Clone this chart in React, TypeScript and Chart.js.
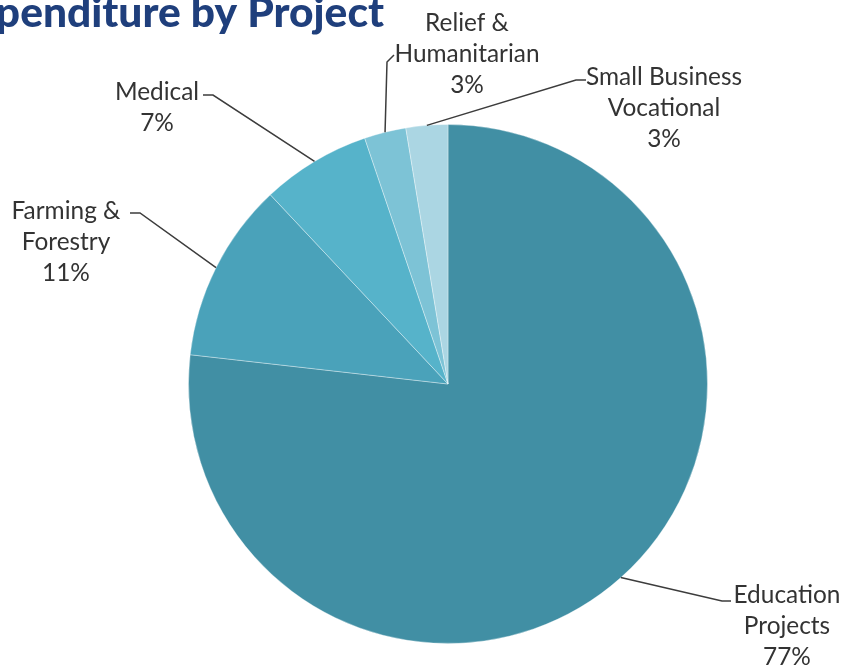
import React, { useEffect, useRef } from "react";
import { Chart, registerables } from "chart.js";

Chart.register(...registerables);

// ---- data ----
const categories: string[][] = [
  ["Education", "Projects"],
  ["Farming &", "Forestry"],
  ["Medical"],
  ["Relief &", "Humanitarian"],
  ["Small Business", "Vocational"],
];
const shares: number[] = [76.8, 11.2, 6.8, 2.6, 2.6];
const sliceColors: string[] = ["#418fa4", "#4aa2ba", "#56b3ca", "#7dc3d6", "#abd6e3"];
const titleText = "Expenditure by Project";

// ---- layout (offsets from the pie centre) ----
const labelLayout = [
  { tx: 339, ty: 211, elbow: [274, 217], end: [283, 217] },
  { tx: -382, ty: -173, elbow: [-308, -171], end: [-318, -171] },
  { tx: -291, ty: -292, elbow: [-235, -289], end: [-245, -289] },
  { tx: 19, ty: -361, elbow: [-61, -322], end: [-54, -329] },
  { tx: 216, ty: -307, elbow: [128, -304], end: [138, -304] },
];
const LINE_H = 31;
const LABEL_FONT_FAMILY = "Lato, 'Open Sans', sans-serif";
const LABEL_FIT_TEXT = "Humanitarian";
const LABEL_FIT_WIDTH = 145;
const TITLE_FIT_TEXT = "penditure by Project";
const TITLE_FIT_WIDTH = 388;
const TITLE_RIGHT = 384;
const TITLE_BASELINE = 27;

const overlayPlugin = {
  id: "overlay",
  afterDraw(chart: any) {
    const ctx: CanvasRenderingContext2D = chart.ctx;
    const meta = chart.getDatasetMeta(0);
    const total = shares.reduce((a, b) => a + b, 0);

    ctx.save();
    // title
    ctx.font = `900 100px ${LABEL_FONT_FAMILY}`;
    const tSize = (100 * TITLE_FIT_WIDTH) / ctx.measureText(TITLE_FIT_TEXT).width;
    ctx.font = `900 ${tSize.toFixed(1)}px ${LABEL_FONT_FAMILY}`;
    ctx.fillStyle = "#1f3f7c";
    ctx.textAlign = "right";
    ctx.textBaseline = "alphabetic";
    ctx.fillText(titleText, TITLE_RIGHT, TITLE_BASELINE);

    // label font
    ctx.font = `100px ${LABEL_FONT_FAMILY}`;
    const lSize = (100 * LABEL_FIT_WIDTH) / ctx.measureText(LABEL_FIT_TEXT).width;
    ctx.font = `${lSize.toFixed(1)}px ${LABEL_FONT_FAMILY}`;

    meta.data.forEach((arc: any, i: number) => {
      const lay = labelLayout[i];
      const cx = arc.x;
      const cy = arc.y;
      const mid = (arc.startAngle + arc.endAngle) / 2;
      const r = arc.outerRadius;
      const sx = cx + Math.cos(mid) * r;
      const sy = cy + Math.sin(mid) * r;

      ctx.strokeStyle = "#3c3c3c";
      ctx.lineWidth = 1.5;
      ctx.beginPath();
      ctx.moveTo(sx, sy);
      ctx.lineTo(cx + lay.elbow[0], cy + lay.elbow[1]);
      ctx.lineTo(cx + lay.end[0], cy + lay.end[1]);
      ctx.stroke();

      const lines = [...categories[i], Math.round((shares[i] / total) * 100) + "%"];
      ctx.fillStyle = "#333333";
      ctx.textAlign = "center";
      ctx.textBaseline = "middle";
      lines.forEach((t, k) => {
        ctx.fillText(t, cx + lay.tx, cy + lay.ty + k * LINE_H);
      });
    });
    ctx.restore();
  },
};

export default function App() {
  const canvasRef = useRef<HTMLCanvasElement | null>(null);

  useEffect(() => {
    if (!canvasRef.current) return;
    const chart = new Chart(canvasRef.current, {
      type: "pie",
      data: {
        labels: categories,
        datasets: [
          {
            data: shares,
            backgroundColor: sliceColors,
            borderColor: "rgba(255,255,255,0.35)",
            borderWidth: 1,
          },
        ],
      },
      options: {
        animation: false,
        responsive: false,
        layout: { padding: { left: 188, right: 135, top: 124, bottom: 27 } },
        plugins: {
          legend: { display: false },
          tooltip: { enabled: false },
          title: { display: false },
        },
      },
      plugins: [overlayPlugin],
    });
    const fonts = (document as any).fonts;
    if (fonts && fonts.load) {
      Promise.all([fonts.load(`900 30px Lato`), fonts.load(`22px Lato`)])
        .then(() => chart.draw())
        .catch(() => {});
    }
    return () => chart.destroy();
  }, []);

  return (
    <div style={{ position: "fixed", left: 0, top: 0, width: 843, height: 671, background: "#ffffff" }}>
      <canvas ref={canvasRef} width={843} height={671} style={{ width: 843, height: 671 }} />
    </div>
  );
}
